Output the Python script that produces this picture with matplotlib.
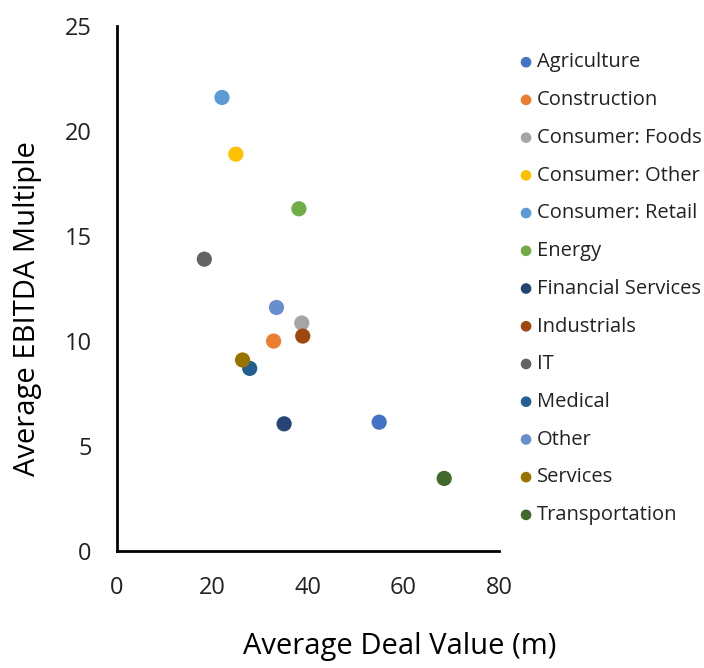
import matplotlib
matplotlib.use('Agg')
import matplotlib.pyplot as plt

# sectors, deal value (m) and EBITDA multiple
sectors = ['Agriculture', 'Construction', 'Consumer: Foods', 'Consumer: Other',
           'Consumer: Retail', 'Energy', 'Financial Services', 'Industrials',
           'IT', 'Medical', 'Other', 'Services', 'Transportation']
deal_value = [54.9, 32.8, 38.7, 24.9, 22.0, 38.1, 35.0, 38.9, 18.3, 27.8, 33.4, 26.3, 68.5]
ebitda_mult = [6.14, 10.0, 10.86, 18.9, 21.6, 16.3, 6.06, 10.24, 13.9, 8.7, 11.6, 9.1, 3.46]
colors = ['#4472C4', '#ED7D31', '#A5A5A5', '#FFC000', '#5B9BD5', '#70AD47', '#264478',
          '#9E480E', '#636363', '#255E91', '#698ED0', '#997300', '#43682B']

plt.rcParams['font.family'] = ['Open Sans', 'DejaVu Sans']
plt.rcParams['text.color'] = '#222222'

fig = plt.figure(figsize=(7.04, 6.68), dpi=100)
ax = fig.add_axes([0.166, 0.175, 0.543, 0.786])

for name, x, y, c in zip(sectors, deal_value, ebitda_mult, colors):
    ax.scatter(x, y, s=120, color=c, label=name, edgecolors='none', zorder=3)

ax.set_xlim(0, 80)
ax.set_ylim(0, 25)
ax.set_xticks([0, 20, 40, 60, 80])
ax.set_yticks([0, 5, 10, 15, 20, 25])
ax.spines['top'].set_visible(False)
ax.spines['right'].set_visible(False)
ax.spines['left'].set_linewidth(2)
ax.spines['bottom'].set_linewidth(2)
ax.tick_params(length=0, labelsize=17, colors='#222222')
ax.tick_params(axis='x', pad=18)
ax.tick_params(axis='y', pad=18)

ax.set_xlabel('Average Deal Value (m)', fontsize=21)
ax.set_ylabel('Average EBITDA Multiple', fontsize=21)
# labels sit off-centre in the original
ax.xaxis.set_label_coords(0.741, -0.155)
ax.yaxis.set_label_coords(-0.196, 0.461)

ax.legend(loc='upper left', bbox_to_anchor=(1.023, 0.965), frameon=False, fontsize=14.5,
          handletextpad=0.05, labelspacing=0.88, borderaxespad=0, markerscale=0.7,
          handlelength=1.0)

fig.savefig('out.png', dpi=100)
